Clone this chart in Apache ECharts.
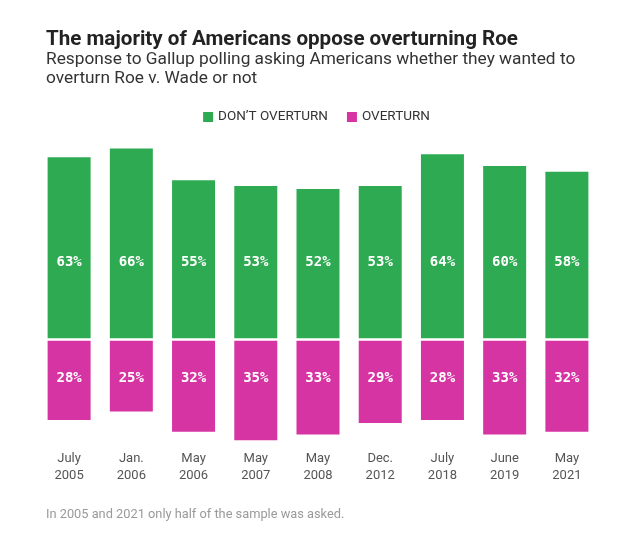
<!DOCTYPE html>
<html>
<head>
<meta charset="utf-8">
<script src="https://cdn.jsdelivr.net/npm/echarts@6/dist/echarts.min.js"></script>
<style>
  html, body { margin: 0; padding: 0; background: #fff; }
  #chart { width: 633px; height: 533px; }
</style>
</head>
<body>
<div id="chart"></div>
<script>
  // 盖洛普民调：是否推翻 Roe v. Wade
  var categories = ['July\n2005', 'Jan.\n2006', 'May\n2006', 'May\n2007', 'May\n2008',
                    'Dec.\n2012', 'July\n2018', 'June\n2019', 'May\n2021'];
  var dontOverturn = [63, 66, 55, 53, 52, 53, 64, 60, 58];
  var overturn = [28, 25, 32, 35, 33, 29, 28, 33, 32];

  var green = '#2eab52';
  var pink = '#d633a3';

  var labelFont = {
    show: true,
    color: '#fff',
    fontFamily: 'DejaVu Sans Mono',
    fontWeight: 'bold',
    fontSize: 14,
    formatter: function (p) {
      return Math.abs(p.value) + '%';
    }
  };

  var option = {
    animation: false,
    backgroundColor: '#fff',
    title: [{
      left: 46,
      top: 29,
      text: 'The majority of Americans oppose overturning Roe',
      textStyle: {
        fontFamily: 'Roboto',
        fontSize: 20.6,
        fontWeight: 'bold',
        color: '#222',
        lineHeight: 22
      },
      subtext: 'Response to Gallup polling asking Americans whether they wanted to\noverturn Roe v. Wade or not',
      subtextStyle: {
        fontFamily: 'Roboto',
        fontSize: 17.3,
        color: '#333',
        lineHeight: 19
      },
      itemGap: -1,
      padding: 0
    }, {
      left: 46,
      top: 508,
      text: 'In 2005 and 2021 only half of the sample was asked.',
      padding: 0,
      textStyle: {
        fontFamily: 'Roboto',
        fontSize: 12.8,
        fontWeight: 'normal',
        color: '#9a9a9a'
      }
    }],
    legend: {
      top: 110,
      left: 'center',
      icon: 'rect',
      itemWidth: 10,
      itemHeight: 10,
      itemGap: 19,
      padding: 0,
      textStyle: {
        fontFamily: 'Roboto',
        fontSize: 13.5,
        color: '#333'
      },
      data: ['DON’T OVERTURN', 'OVERTURN']
    },
    grid: {
      left: 38,
      width: 560,
      top: 137,
      height: 312
    },
    xAxis: {
      type: 'category',
      data: categories,
      axisLine: { show: false },
      axisTick: { show: false },
      axisLabel: {
        margin: 1,
        fontFamily: 'Roboto',
        fontSize: 13,
        lineHeight: 17,
        color: '#555'
      }
    },
    yAxis: {
      type: 'value',
      min: -38,
      max: 70,
      show: false,
      splitLine: { show: false }
    },
    series: [{
      name: 'DON’T OVERTURN',
      type: 'bar',
      stack: 'poll',
      barWidth: 43,
      itemStyle: { color: green },
      label: Object.assign({}, labelFont, { position: 'insideBottom', distance: 70 }),
      data: dontOverturn,
      // white gap between the two halves
      markLine: {
        silent: true,
        symbol: 'none',
        label: { show: false },
        lineStyle: { color: '#fff', width: 2.5, type: 'solid' },
        data: [{ yAxis: 0 }]
      },
      z: 2
    }, {
      name: 'OVERTURN',
      type: 'bar',
      stack: 'poll',
      barWidth: 43,
      itemStyle: { color: pink },
      label: Object.assign({}, labelFont, { position: 'insideTop', distance: 32 }),
      data: overturn.map(function (v) { return -v; }),
      z: 2
    }]
  };

  var myChart = echarts.init(document.getElementById('chart'));
  myChart.setOption(option);
</script>
</body>
</html>
